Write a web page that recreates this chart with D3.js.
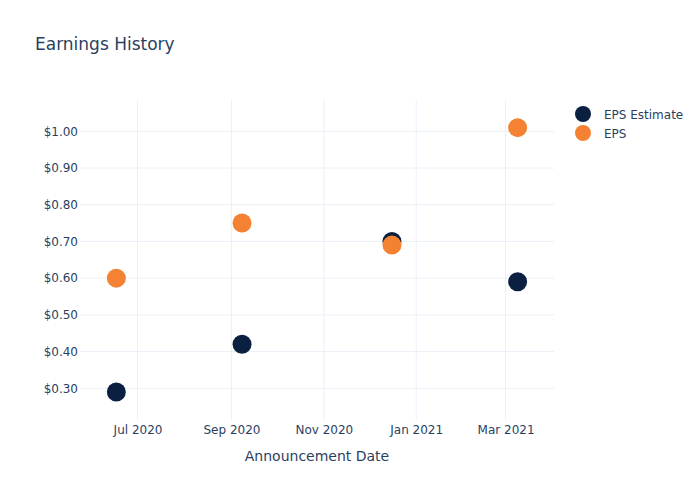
<!DOCTYPE html>
<html>
<head>
<meta charset="utf-8">
<script src="https://cdn.jsdelivr.net/npm/d3@7"></script>
<style>
  body { margin: 0; background: #fff; }
  svg text { font-family: "DejaVu Sans", sans-serif; fill: #2a3f5f; }
</style>
</head>
<body>
<div id="chart"></div>
<script>
'use strict'

// data
const dates = ['2020-06-17', '2020-09-08', '2020-12-16', '2021-03-09']
const epsEstimate = [0.29, 0.42, 0.70, 0.59]
const epsActual = [0.60, 0.75, 0.69, 1.01]
const seriesNames = ['EPS Estimate', 'EPS']
const seriesColors = ['#0b1f41', '#f58233']
const yTicks = [0.3, 0.4, 0.5, 0.6, 0.7, 0.8, 0.9, 1.0]
const xTicks = ['2020-07-01', '2020-09-01', '2020-11-01', '2021-01-01', '2021-03-01']

const parse = d3.timeParse('%Y-%m-%d')

// svg setup
const svgWidth = 700
const svgHeight = 500
const margin = { left: 80, right: 146, top: 100, bottom: 80 }
const width = svgWidth - margin.left - margin.right
const height = svgHeight - margin.top - margin.bottom

const svg = d3.select('#chart')
    .append('svg')
    .attr('width', svgWidth)
    .attr('height', svgHeight)

const g = svg.append('g')
    .attr('transform', `translate(${margin.left},${margin.top})`)

// scales
const x = d3.scaleTime()
    .domain([parse('2020-05-24'), parse('2021-04-02')])
    .range([0, width])

const y = d3.scaleLinear()
    .domain([0.2136, 1.0853])
    .range([height, 0])

// grid
g.append('g')
    .selectAll('line')
    .data(xTicks.map(parse))
    .join('line')
    .attr('x1', d => x(d)).attr('x2', d => x(d))
    .attr('y1', 0).attr('y2', height)
    .attr('stroke', '#ebf0f8')
    .attr('stroke-width', 1)

g.append('g')
    .selectAll('line')
    .data(yTicks)
    .join('line')
    .attr('x1', 0).attr('x2', width)
    .attr('y1', d => y(d)).attr('y2', d => y(d))
    .attr('stroke', '#ebf0f8')
    .attr('stroke-width', 1)

// axes
const xAxis = g.append('g')
    .attr('transform', `translate(0,${height})`)
    .call(d3.axisBottom(x).tickValues(xTicks.map(parse)).tickFormat(d3.timeFormat('%b %Y')).tickSize(0).tickPadding(5))
xAxis.select('.domain').remove()
xAxis.selectAll('text').style('font-size', '12px').attr('fill', '#2a3f5f')

const yAxis = g.append('g')
    .call(d3.axisLeft(y).tickValues(yTicks).tickFormat(d => '$' + d.toFixed(2)).tickSize(0).tickPadding(2))
yAxis.select('.domain').remove()
yAxis.selectAll('text').style('font-size', '12px').attr('fill', '#2a3f5f')

// axis title
svg.append('text')
    .attr('x', margin.left + width / 2)
    .attr('y', 461)
    .attr('text-anchor', 'middle')
    .style('font-size', '14px')
    .text('Announcement Date')

// title
svg.append('text')
    .attr('x', 35)
    .attr('y', 50)
    .style('font-size', '17px')
    .text('Earnings History')

// points
const series = [epsEstimate, epsActual]
series.forEach((vals, i) => {
    g.append('g')
        .selectAll('circle')
        .data(vals)
        .join('circle')
        .attr('cx', (d, j) => x(parse(dates[j])))
        .attr('cy', d => y(d))
        .attr('r', 9.5)
        .attr('fill', seriesColors[i])
})

// legend
const legend = svg.append('g')
    .attr('transform', 'translate(583,114)')
const items = legend.selectAll('g')
    .data(seriesNames)
    .join('g')
    .attr('transform', (d, i) => `translate(0,${i * 19})`)
items.append('circle')
    .attr('r', 8)
    .attr('fill', (d, i) => seriesColors[i])
items.append('text')
    .attr('x', 21)
    .attr('y', 4.5)
    .style('font-size', '12px')
    .text(d => d)
</script>
</body>
</html>
